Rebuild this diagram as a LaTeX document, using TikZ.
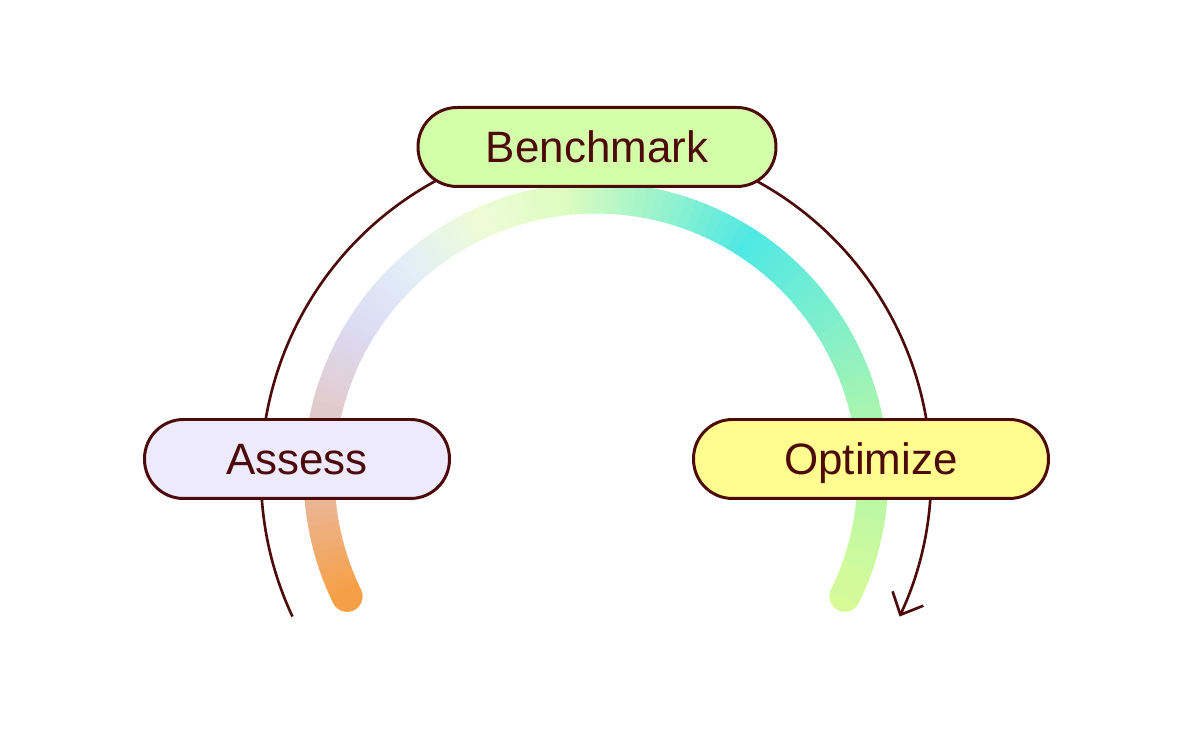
\documentclass[tikz,border=0pt]{standalone}
\usepackage{fontspec}
\setmainfont{Liberation Sans}
\usetikzlibrary{positioning,arrows.meta,calc}
\definecolor{ink}{HTML}{4D0A0A}
\definecolor{benchfill}{HTML}{D4FDA9}
\definecolor{assessfill}{HTML}{ECEAFC}
\definecolor{optfill}{HTML}{FFFD8F}
\definecolor{g0}{HTML}{F5A046}
\definecolor{g1}{HTML}{EBB79A}
\definecolor{g2}{HTML}{E3CACA}
\definecolor{g3}{HTML}{DCDAF2}
\definecolor{g4}{HTML}{E2EEF8}
\definecolor{g5}{HTML}{EEFCD6}
\definecolor{g6}{HTML}{DDFCC0}
\definecolor{g7}{HTML}{A8F5C8}
\definecolor{g8}{HTML}{4FE8E4}
\definecolor{g9}{HTML}{78EED0}
\definecolor{g10}{HTML}{A6F4B0}
\definecolor{g11}{HTML}{D8FB98}

\begin{document}
\begin{tikzpicture}[x=0.02cm,y=0.02cm,
  stage/.style={draw=ink,line width=1.7pt,text=ink,rounded corners=0.78cm,minimum height=1.58cm,text height=17.8pt,text depth=0pt,font=\fontsize{25}{30}\selectfont}]
\useasboundingbox (0,0) rectangle (1200,732);
\coordinate (c) at (596,257);
% thin cycle arc with arrow
\coordinate (cstart) at ($(c)+(205:6.7cm)$);
\draw[ink,line width=1.5pt,-{Straight Barb[length=0.36cm,width=0.68cm]}] (cstart) arc[start angle=205,end angle=-25,radius=6.7cm];
% gradient band
\fill[g0] ($(c)+(206:5.54cm)$) circle[radius=0.31cm];
\fill[g11] ($(c)+(-26:5.54cm)$) circle[radius=0.31cm];
\foreach \aa/\ab/\ca/\cb in {206/185/g0/g1,185/168/g1/g2,168/150/g2/g3,150/133/g3/g4,133/115/g4/g5,115/97/g5/g6,97/82/g6/g7,82/58/g7/g8,58/38/g8/g9,38/15/g9/g10,15/-26/g10/g11}{
  \foreach \k in {0,...,11}{
    \pgfmathsetmacro\sa{\aa+(\ab-\aa)*\k/12}
    \pgfmathsetmacro\sb{\aa+(\ab-\aa)*(\k+1)/12-0.4}
    \pgfmathtruncatemacro\pc{\k*100/12}
    \draw[line width=17.6pt,\cb!\pc!\ca] ($(c)+(\sa:5.54cm)$) arc[start angle=\sa,end angle=\sb,radius=5.54cm];
  }
}
% stages
\node[stage,fill=benchfill,minimum width=7.16cm] (bench) at (597,585) {Benchmark};
\node[stage,fill=assessfill,minimum width=6.1cm] (assess) at (297,273) {Assess};
\node[stage,fill=optfill,minimum width=7.1cm] (opt) at (871,273) {Optimize};
\end{tikzpicture}
\end{document}
